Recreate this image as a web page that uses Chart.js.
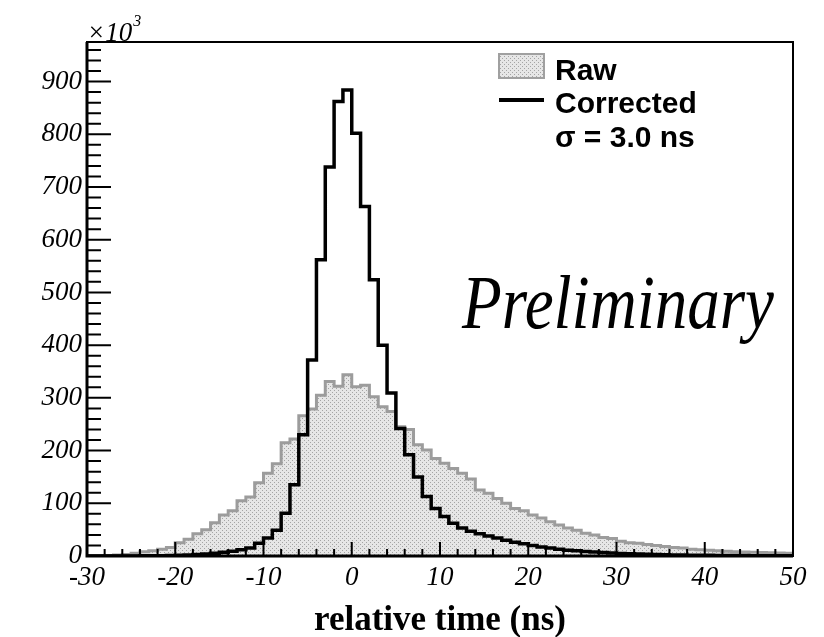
<!DOCTYPE html>
<html>
<head>
<meta charset="utf-8">
<script src="https://cdn.jsdelivr.net/npm/chart.js@4.4.0/dist/chart.umd.min.js"></script>
<style>
  html, body { margin: 0; padding: 0; background: #fff; }
  #wrap { width: 824px; height: 637px; position: relative; }
</style>
</head>
<body>
<div id="wrap"><canvas id="timeChart"></canvas></div>
<script>
// bin edges in ns (1 ns bins)
const binEdges = [
  -30, -29, -28, -27, -26, -25, -24, -23, -22, -21,
  -20, -19, -18, -17, -16, -15, -14, -13, -12, -11,
  -10, -9, -8, -7, -6, -5, -4, -3, -2, -1,
  0, 1, 2, 3, 4, 5, 6, 7, 8, 9,
  10, 11, 12, 13, 14, 15, 16, 17, 18, 19,
  20, 21, 22, 23, 24, 25, 26, 27, 28, 29,
  30, 31, 32, 33, 34, 35, 36, 37, 38, 39,
  40, 41, 42, 43, 44, 45, 46, 47, 48, 49, 50
];

// counts per bin, x10^3
const rawCounts = [
  0.3, 0.5, 1, 2, 3, 5, 8, 10, 13, 16,
  25, 32, 42, 50, 63, 78, 86, 105, 112, 139,
  157, 175, 215, 222, 266, 279, 305, 331, 322, 344,
  321, 324, 302, 283, 274, 245, 240, 211, 201, 185,
  176, 166, 157, 146, 125, 119, 109, 100, 90, 86,
  78, 72, 65, 59, 53, 49, 43, 40, 35, 33,
  28, 25, 24, 22, 20, 18, 16, 15, 13, 12,
  11, 10, 9, 8, 7.5, 7, 6.5, 6, 5.5, 5
];

const correctedCounts = [
  0, 0, 0, 0.1, 0.1, 0.2, 0.3, 0.5, 0.7, 1,
  1.5, 2, 3, 4, 5, 7, 9, 12, 15, 24,
  34, 49, 81, 135, 230, 372, 562, 738, 862, 884,
  802, 663, 524, 400, 309, 242, 192, 150, 113, 90,
  75, 62, 53, 47, 42, 38, 34, 30, 26, 23,
  20, 17, 15, 13, 11, 10, 8.5, 7.5, 6.5, 5.5,
  4.8, 4.2, 3.6, 3.1, 2.7, 2.4, 2.1, 1.8, 1.6, 1.4,
  1.2, 1.1, 1.0, 0.9, 0.8, 0.7, 0.6, 0.5, 0.5, 0.4
];

const legendLabels = ['Raw', 'Corrected', '\u03c3 = 3.0 ns'];
const xTitle = 'relative time (ns)';
const watermark = 'Preliminary';

// histogram -> stepped points (low edge + closing point at last edge)
function toSteps(counts) {
  const pts = counts.map((c, i) => ({ x: binEdges[i], y: c }));
  pts.push({ x: binEdges[binEdges.length - 1], y: counts[counts.length - 1] });
  return pts;
}

// dotted grey fill like the ROOT fill style
function dotPattern() {
  const c = document.createElement('canvas');
  c.width = 4; c.height = 4;
  const g = c.getContext('2d');
  g.fillStyle = '#e6e6e6';
  g.fillRect(0, 0, 4, 4);
  g.fillStyle = '#a4a4a4';
  g.fillRect(0, 0, 1, 1);
  g.fillRect(2, 2, 1, 1);
  return g.createPattern(c, 'repeat');
}
const rawFill = dotPattern();

const serif = "'Liberation Serif', 'Times New Roman', serif";
const sans = "'Liberation Sans', Arial, sans-serif";

const histFrame = {
  id: 'histFrame',
  afterDatasetsDraw(chart) {
    const { ctx, chartArea: a, scales: { x, y } } = chart;
    ctx.save();
    ctx.strokeStyle = '#000';
    ctx.fillStyle = '#000';

    // frame
    ctx.lineWidth = 2;
    ctx.strokeRect(a.left, a.top, a.right - a.left, a.bottom - a.top);
    ctx.lineWidth = 3;
    ctx.beginPath();
    ctx.moveTo(a.left, a.top);
    ctx.lineTo(a.left, a.bottom);
    ctx.lineTo(a.right, a.bottom);
    ctx.stroke();

    // ticks pointing inside
    ctx.lineWidth = 2;
    ctx.beginPath();
    for (let v = 0; v <= y.max; v += 20) {
      const py = y.getPixelForValue(v);
      const len = v % 100 === 0 ? 24 : 14;
      ctx.moveTo(a.left, py);
      ctx.lineTo(a.left + len, py);
    }
    for (let v = x.min; v <= x.max; v += 2) {
      const px = x.getPixelForValue(v);
      const len = v % 10 === 0 ? 14 : 7;
      ctx.moveTo(px, a.bottom);
      ctx.lineTo(px, a.bottom - len);
    }
    ctx.stroke();

    // x10^3
    ctx.textBaseline = 'alphabetic';
    ctx.textAlign = 'left';
    ctx.font = 'italic 27px ' + serif;
    ctx.fillText('\u00d710', a.left, a.top - 1);
    const w10 = ctx.measureText('\u00d710').width;
    ctx.font = 'italic 16px ' + serif;
    ctx.fillText('3', a.left + w10 + 1, a.top - 16);

    // axis title
    ctx.font = 'bold 35px ' + serif;
    ctx.textAlign = 'center';
    ctx.fillText(xTitle, (a.left + a.right) / 2, 630);

    // legend
    ctx.textAlign = 'left';
    ctx.fillStyle = rawFill;
    ctx.fillRect(499, 54, 45, 24);
    ctx.strokeStyle = '#a0a0a0';
    ctx.lineWidth = 2;
    ctx.strokeRect(499, 54, 45, 24);
    ctx.strokeStyle = '#000';
    ctx.lineWidth = 4;
    ctx.beginPath();
    ctx.moveTo(499, 100);
    ctx.lineTo(544, 100);
    ctx.stroke();
    ctx.fillStyle = '#000';
    ctx.font = 'bold 30px ' + sans;
    ctx.fillText(legendLabels[0], 555, 80);
    ctx.fillText(legendLabels[1], 555, 113);
    ctx.fillText(legendLabels[2], 555, 147);

    // watermark
    ctx.font = 'italic 76px ' + serif;
    const ww = ctx.measureText(watermark).width;
    ctx.translate(462, 328);
    ctx.scale(312 / ww, 1);
    ctx.fillText(watermark, 0, 0);
    ctx.restore();
  }
};

new Chart(document.getElementById('timeChart'), {
  type: 'line',
  data: {
    datasets: [
      {
        label: legendLabels[1],
        data: toSteps(correctedCounts),
        stepped: true,
        borderColor: '#000',
        borderWidth: 3.5,
        pointRadius: 0,
        fill: false,
        order: 1
      },
      {
        label: legendLabels[0],
        data: toSteps(rawCounts),
        stepped: true,
        borderColor: '#9c9c9c',
        borderWidth: 3,
        backgroundColor: rawFill,
        pointRadius: 0,
        fill: 'origin',
        order: 2
      }
    ]
  },
  options: {
    responsive: true,
    maintainAspectRatio: false,
    animation: false,
    layout: { padding: { top: 42, right: 31, left: 0, bottom: 0 } },
    plugins: {
      legend: { display: false },
      tooltip: { enabled: false }
    },
    scales: {
      x: {
        type: 'linear',
        min: -30,
        max: 50,
        grid: { display: false, drawTicks: false },
        border: { display: false },
        ticks: {
          stepSize: 10,
          padding: 6,
          color: '#000',
          maxRotation: 0,
          font: { family: serif, style: 'italic', size: 27 }
        },
        afterFit: s => { s.height = 81; }
      },
      y: {
        min: 0,
        max: 975,
        grid: { display: false, drawTicks: false },
        border: { display: false },
        ticks: {
          stepSize: 100,
          includeBounds: false,
          padding: 5,
          color: '#000',
          font: { family: serif, style: 'italic', size: 27 }
        },
        afterFit: s => { s.width = 87; }
      }
    }
  },
  plugins: [histFrame]
});
</script>
</body>
</html>
